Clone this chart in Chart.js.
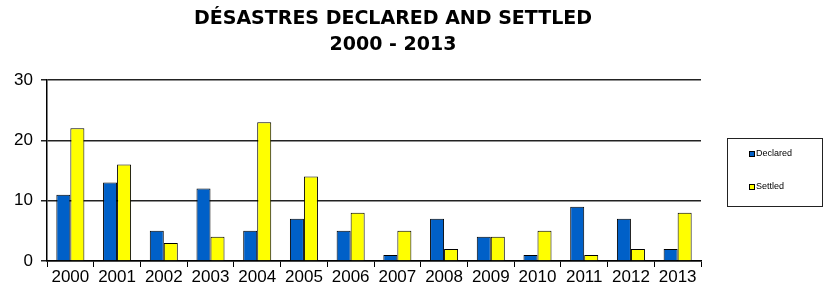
<!DOCTYPE html>
<html><head><meta charset="utf-8">
<script src="https://cdn.jsdelivr.net/npm/chart.js@4"></script>
<style>html,body{margin:0;padding:0;background:#fff}#w{width:825px;height:291px}</style>
</head><body><div id="w"><canvas id="c"></canvas></div>
<script>
const titleLines = ['DÉSASTRES DECLARED AND SETTLED','2000 - 2013'];
const years = ['2000','2001','2002','2003','2004','2005','2006','2007','2008','2009','2010','2011','2012','2013'];
const declared = [11,13,5,12,5,7,5,1,7,4,1,9,7,2];
const settled = [22,16,3,4,23,14,8,5,2,4,5,1,2,8];
const yTicks = [0,10,20,30];

const titleDraw = {
  id:'titleDraw',
  afterDraw(chart){
    const ctx = chart.ctx;
    ctx.save();
    ctx.fillStyle='#000';
    ctx.font = 'bold 19px "DejaVu Sans", Verdana, sans-serif';
    ctx.textAlign='center'; ctx.textBaseline='middle';
    ctx.fillText(titleLines[0],393,19);
    ctx.fillText(titleLines[1],393,45);
    ctx.restore();
  }
};

const legendBox = {
  id:'legendBox',
  afterDraw(chart){
    const ctx = chart.ctx;
    ctx.save();
    ctx.strokeStyle = '#222'; ctx.lineWidth = 1;
    ctx.strokeRect(727.5,138.5,95,68);
    const ds = chart.data.datasets;
    const ys = [154,187];
    ctx.font = '9px "Liberation Sans", Arial, sans-serif';
    ctx.textBaseline = 'middle';
    ds.forEach((d,i)=>{
      ctx.fillStyle = d.backgroundColor;
      ctx.fillRect(749,ys[i]-2.5,6,5);
      ctx.strokeStyle = '#000';
      ctx.strokeRect(749.5,ys[i]-2.5,5,5);
      ctx.fillStyle = '#000';
      ctx.fillText(d.label,756,ys[i]);
    });
    ctx.restore();
  }
};

new Chart(document.getElementById('c'),{
  type:'bar',
  data:{labels:years,datasets:[
    {label:'Declared',data:declared,backgroundColor:'#0060C8',borderColor:'#000',borderWidth:1,borderSkipped:'bottom'},
    {label:'Settled',data:settled,backgroundColor:'#FFFF00',borderColor:'#000',borderWidth:1,borderSkipped:'bottom'}
  ]},
  options:{
    responsive:true,maintainAspectRatio:false,animation:false,
    layout:{padding:{left:0,right:124,top:80,bottom:0}},
    datasets:{bar:{categoryPercentage:0.6,barPercentage:1}},
    plugins:{
      legend:{display:false},
      tooltip:{enabled:false},
      title:{display:false}
    },
    scales:{
      x:{offset:true,
        grid:{offset:true,drawOnChartArea:false,color:'#000',tickLength:6,lineWidth:1},
        border:{color:'#000',width:1.5},
        ticks:{color:'#000',font:{family:'"Liberation Sans", Arial, sans-serif',size:17},padding:0,maxRotation:0,autoSkip:false},
        afterFit(s){s.height=30;}
      },
      y:{min:0,max:30,
        afterBuildTicks(s){s.ticks = yTicks.map(v=>({value:v}));},
        grid:{color:'#222',lineWidth:1.5,tickLength:6},
        border:{color:'#000',width:1.5},
        ticks:{color:'#000',font:{family:'"Liberation Sans", Arial, sans-serif',size:17},padding:8},
        afterFit(s){s.width=47;}
      }
    }
  },
  plugins:[titleDraw,legendBox]
});
</script></body></html>
